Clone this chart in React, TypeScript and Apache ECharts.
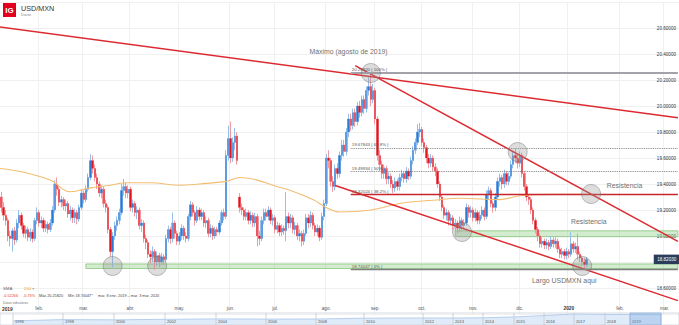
import React, { useEffect, useRef } from 'react';
import * as echarts from 'echarts';

const FONT = 'Liberation Sans, Arial, Helvetica, sans-serif';

// ---------- categories: trading days ----------
const FIRST_DAY = '2019-01-08';
const SLOT_COUNT = 306;
const tradingDays: string[] = (() => {
  const out: string[] = [];
  const d = new Date(FIRST_DAY + 'T00:00:00Z');
  while (out.length < SLOT_COUNT) {
    const wd = d.getUTCDay();
    if (wd !== 0 && wd !== 6) out.push(d.toISOString().slice(0, 10));
    d.setUTCDate(d.getUTCDate() + 1);
  }
  return out;
})();
const monthNames = ['ene.', 'feb.', 'mar.', 'abr.', 'may.', 'jun.', 'jul.', 'ago.', 'sep.', 'oct.', 'nov.', 'dic.'];
const isMonthStart = (i: number) => i > 0 && tradingDays[i].slice(5, 7) !== tradingDays[i - 1].slice(5, 7);

// ---------- daily candles [open, close, low, high] ----------
const candles: number[][] = [
  [19.40, 19.30, 19.26, 19.45], [19.30, 19.22, 19.18, 19.34], [19.22, 19.16, 19.12, 19.26], [19.16, 19.12, 19.08, 19.20], [19.12, 19.00, 18.96, 19.14],
  [19.00, 18.98, 18.92, 19.04], [18.98, 19.04, 18.88, 19.06], [19.04, 18.97, 18.93, 19.07], [18.97, 19.10, 18.95, 19.13], [19.10, 19.16, 19.06, 19.20],
  [19.16, 19.08, 19.05, 19.18], [19.08, 19.02, 18.99, 19.10], [19.02, 19.05, 18.98, 19.08], [19.05, 18.99, 18.96, 19.07], [18.99, 19.03, 18.96, 19.06],
  [19.03, 18.98, 18.95, 19.05], [18.98, 19.12, 18.96, 19.14], [19.12, 19.18, 19.09, 19.22], [19.18, 19.10, 19.07, 19.20], [19.10, 19.12, 19.06, 19.15],
  [19.12, 19.06, 19.03, 19.14], [19.06, 19.09, 19.03, 19.12], [19.09, 19.05, 19.02, 19.11], [19.05, 19.10, 19.03, 19.13], [19.10, 19.20, 19.08, 19.23],
  [19.20, 19.40, 19.18, 19.43], [19.40, 19.36, 19.31, 19.45], [19.36, 19.26, 19.23, 19.38], [19.26, 19.28, 19.22, 19.31], [19.28, 19.23, 19.20, 19.30],
  [19.23, 19.25, 19.19, 19.28], [19.25, 19.17, 19.14, 19.27], [19.17, 19.20, 19.12, 19.23], [19.20, 19.14, 19.10, 19.22], [19.14, 19.18, 19.10, 19.21],
  [19.18, 19.13, 19.09, 19.20], [19.13, 19.22, 19.11, 19.24], [19.22, 19.33, 19.20, 19.36], [19.33, 19.28, 19.25, 19.35], [19.28, 19.36, 19.26, 19.39],
  [19.36, 19.45, 19.34, 19.48], [19.45, 19.58, 19.43, 19.63], [19.58, 19.52, 19.48, 19.62], [19.52, 19.45, 19.42, 19.55], [19.45, 19.40, 19.36, 19.48],
  [19.40, 19.33, 19.30, 19.42], [19.33, 19.36, 19.29, 19.39], [19.36, 19.25, 19.22, 19.38], [19.25, 19.22, 19.18, 19.28], [19.22, 19.05, 19.02, 19.24],
  [19.05, 18.88, 18.84, 19.07], [18.88, 19.00, 18.76, 19.03], [19.00, 19.08, 18.97, 19.11], [19.08, 19.12, 19.04, 19.15], [19.12, 19.18, 19.09, 19.21],
  [19.18, 19.35, 19.16, 19.40], [19.35, 19.38, 19.31, 19.44], [19.38, 19.33, 19.29, 19.41], [19.33, 19.36, 19.29, 19.39], [19.36, 19.22, 19.19, 19.38],
  [19.22, 19.25, 19.18, 19.28], [19.25, 19.18, 19.15, 19.27], [19.18, 19.20, 19.13, 19.23], [19.20, 19.08, 19.05, 19.22], [19.08, 19.10, 19.03, 19.13],
  [19.10, 18.98, 18.95, 19.12], [18.98, 18.95, 18.90, 19.01], [18.95, 18.86, 18.83, 18.97], [18.86, 18.84, 18.79, 18.89], [18.84, 18.88, 18.80, 18.92],
  [18.88, 18.80, 18.7405, 18.90], [18.80, 18.85, 18.77, 18.88], [18.85, 18.80, 18.76, 18.87], [18.80, 18.84, 18.78, 18.87], [18.84, 18.82, 18.78, 18.86],
  [18.82, 18.98, 18.80, 19.01], [18.98, 19.05, 18.95, 19.08], [19.05, 18.98, 18.94, 19.07], [18.98, 19.10, 18.95, 19.18], [19.10, 19.02, 18.98, 19.12],
  [19.02, 18.96, 18.93, 19.04], [18.96, 19.00, 18.93, 19.03], [19.00, 19.06, 18.97, 19.09], [19.06, 19.00, 18.97, 19.08], [19.00, 18.98, 18.95, 19.03],
  [18.98, 19.15, 18.96, 19.17], [19.15, 19.24, 19.12, 19.27], [19.24, 19.18, 19.15, 19.26], [19.18, 19.12, 19.08, 19.20], [19.12, 19.20, 19.10, 19.23],
  [19.20, 19.15, 19.12, 19.22], [19.15, 19.18, 19.12, 19.21], [19.18, 19.10, 19.07, 19.20], [19.10, 19.12, 19.06, 19.15], [19.12, 19.02, 18.99, 19.14],
  [19.02, 19.06, 18.99, 19.09], [19.06, 19.00, 18.97, 19.08], [19.00, 19.05, 18.98, 19.07], [19.05, 19.03, 19.00, 19.07], [19.03, 19.10, 19.01, 19.12],
  [19.10, 19.18, 19.08, 19.20], [19.18, 19.15, 19.12, 19.21], [19.15, 19.62, 19.13, 19.66], [19.62, 19.75, 19.58, 19.85], [19.75, 19.60, 19.56, 19.88],
  [19.60, 19.72, 19.57, 19.76], [19.72, 19.77, 19.66, 19.83], [19.77, 19.58, 19.55, 19.80], [19.30, 19.22, 19.18, 19.33], [19.22, 19.20, 19.16, 19.25],
  [19.20, 19.15, 19.12, 19.22], [19.15, 19.18, 19.12, 19.21], [19.18, 19.12, 19.09, 19.20], [19.12, 19.16, 19.09, 19.19], [19.16, 19.10, 19.07, 19.18],
  [19.10, 19.15, 19.07, 19.18], [19.15, 19.00, 18.92, 19.17], [19.00, 18.98, 18.93, 19.04], [18.98, 19.12, 18.96, 19.15], [19.12, 19.18, 19.09, 19.21],
  [19.18, 19.15, 19.12, 19.21], [19.15, 19.20, 19.12, 19.23], [19.20, 19.12, 19.09, 19.22], [19.12, 19.14, 19.08, 19.17], [19.14, 19.05, 19.02, 19.16],
  [19.05, 19.08, 19.02, 19.11], [19.08, 19.03, 19.00, 19.10], [19.03, 19.06, 19.00, 19.09], [19.06, 19.04, 19.01, 19.08], [19.04, 19.15, 18.96, 19.34],
  [19.15, 19.10, 19.06, 19.18], [19.10, 19.14, 19.06, 19.17], [19.14, 19.05, 19.02, 19.16], [19.05, 19.08, 19.01, 19.11], [19.08, 19.00, 18.97, 19.10],
  [19.00, 19.02, 18.96, 19.05], [19.02, 18.96, 18.92, 19.04], [18.96, 19.02, 18.93, 19.05], [19.02, 19.14, 19.00, 19.17], [19.14, 19.10, 19.06, 19.17],
  [19.10, 19.16, 19.07, 19.19], [19.16, 19.08, 19.05, 19.18], [19.08, 19.03, 19.00, 19.10], [19.03, 19.06, 19.00, 19.09], [19.06, 18.99, 18.96, 19.08],
  [18.99, 19.15, 18.97, 19.18], [19.15, 19.25, 19.12, 19.28], [19.25, 19.60, 19.23, 19.63], [19.60, 19.58, 19.52, 19.66], [19.58, 19.42, 19.38, 19.60],
  [19.42, 19.38, 19.34, 19.46], [19.38, 19.52, 19.35, 19.55], [19.52, 19.48, 19.44, 19.56], [19.48, 19.62, 19.45, 19.65], [19.62, 19.70, 19.58, 19.74],
  [19.70, 19.65, 19.61, 19.74], [19.65, 19.80, 19.62, 19.83], [19.80, 19.90, 19.76, 19.94], [19.90, 19.85, 19.81, 19.94], [19.85, 19.95, 19.82, 19.98],
  [19.95, 19.88, 19.84, 19.98], [19.88, 20.00, 19.85, 20.03], [20.00, 19.95, 19.91, 20.04], [19.95, 20.05, 19.92, 20.08], [20.05, 19.98, 19.94, 20.08],
  [19.98, 20.12, 19.95, 20.15], [20.12, 20.15, 20.08, 20.22], [20.15, 20.05, 20.00, 20.2582], [20.05, 20.12, 20.02, 20.17], [20.12, 19.90, 19.86, 20.14],
  [19.90, 19.62, 19.58, 19.92], [19.62, 19.55, 19.50, 19.66], [19.55, 19.48, 19.44, 19.58], [19.48, 19.52, 19.44, 19.55], [19.52, 19.44, 19.40, 19.54],
  [19.44, 19.46, 19.40, 19.49], [19.46, 19.40, 19.37, 19.48], [19.40, 19.37, 19.33, 19.43], [19.37, 19.42, 19.34, 19.45], [19.42, 19.38, 19.35, 19.44],
  [19.38, 19.45, 19.35, 19.48], [19.45, 19.48, 19.42, 19.51], [19.48, 19.44, 19.41, 19.50], [19.44, 19.50, 19.41, 19.53], [19.50, 19.46, 19.43, 19.52],
  [19.46, 19.58, 19.44, 19.61], [19.58, 19.66, 19.55, 19.69], [19.66, 19.72, 19.63, 19.75], [19.72, 19.80, 19.70, 19.86], [19.80, 19.82, 19.76, 19.87],
  [19.82, 19.72, 19.69, 19.84], [19.72, 19.68, 19.64, 19.75], [19.68, 19.60, 19.56, 19.70], [19.60, 19.56, 19.52, 19.63], [19.56, 19.60, 19.53, 19.63],
  [19.60, 19.53, 19.50, 19.62], [19.53, 19.50, 19.46, 19.56], [19.50, 19.40, 19.37, 19.52], [19.40, 19.30, 19.27, 19.42], [19.30, 19.22, 19.19, 19.32],
  [19.22, 19.16, 19.13, 19.24], [19.16, 19.18, 19.12, 19.21], [19.18, 19.12, 19.08, 19.20], [19.12, 19.14, 19.08, 19.17], [19.14, 19.08, 19.05, 19.16],
  [19.08, 19.10, 19.04, 19.13], [19.10, 19.06, 19.02, 19.12], [19.06, 19.12, 19.03, 19.15], [19.12, 19.08, 19.04, 19.14], [19.08, 19.10, 19.05, 19.13],
  [19.10, 19.22, 19.08, 19.25], [19.22, 19.18, 19.14, 19.24], [19.18, 19.20, 19.14, 19.23], [19.20, 19.14, 19.11, 19.22], [19.14, 19.18, 19.11, 19.21],
  [19.18, 19.12, 19.09, 19.20], [19.12, 19.16, 19.09, 19.19], [19.16, 19.20, 19.13, 19.23], [19.20, 19.15, 19.12, 19.22], [19.15, 19.32, 19.13, 19.35],
  [19.32, 19.35, 19.28, 19.38], [19.35, 19.25, 19.22, 19.37], [19.25, 19.22, 19.18, 19.27], [19.22, 19.30, 19.19, 19.33], [19.30, 19.42, 19.28, 19.45],
  [19.42, 19.45, 19.38, 19.48], [19.45, 19.40, 19.36, 19.47], [19.40, 19.48, 19.37, 19.51], [19.48, 19.42, 19.39, 19.50], [19.42, 19.46, 19.39, 19.49],
  [19.46, 19.55, 19.44, 19.58], [19.55, 19.62, 19.52, 19.65], [19.62, 19.60, 19.56, 19.67], [19.60, 19.56, 19.52, 19.63], [19.56, 19.62, 19.53, 19.65],
  [19.62, 19.48, 19.45, 19.64], [19.48, 19.38, 19.35, 19.50], [19.38, 19.30, 19.27, 19.40], [19.30, 19.28, 19.24, 19.32], [19.28, 19.20, 19.17, 19.30],
  [19.20, 19.12, 19.09, 19.22], [19.12, 19.05, 19.02, 19.14], [19.05, 19.00, 18.96, 19.07], [19.00, 18.94, 18.91, 19.02], [18.94, 18.96, 18.91, 18.99],
  [18.96, 18.93, 18.90, 18.98], [18.93, 18.95, 18.90, 18.98], [18.95, 18.92, 18.89, 18.97], [18.92, 18.97, 18.90, 19.00], [18.97, 18.94, 18.91, 18.99],
  [18.94, 18.96, 18.91, 18.99], [18.96, 18.90, 18.87, 18.98], [18.90, 18.86, 18.83, 18.92], [18.86, 18.88, 18.83, 18.91], [18.88, 18.85, 18.82, 18.90],
  [18.85, 18.88, 18.82, 18.91], [18.88, 18.86, 18.83, 18.90], [18.86, 18.94, 18.84, 19.03], [18.94, 18.90, 18.87, 18.96], [18.90, 18.92, 18.87, 18.95],
  [18.92, 18.86, 18.82, 19.02], [18.86, 18.83, 18.80, 18.88], [18.83, 18.80, 18.77, 18.85], [18.80, 18.78, 18.75, 18.83], [18.78, 18.8203, 18.76, 18.84],
];
const lastPrice = 18.8203;

// ---------- SMA 200 readings [slot, value] ----------
const sma200: number[][] = [
  [0, 19.52], [11, 19.49], [23, 19.43], [32, 19.34], [41, 19.37], [50, 19.39], [57, 19.41], [68, 19.41], [81, 19.39],
  [90, 19.40], [102, 19.42], [108, 19.45], [116, 19.43], [123, 19.39], [131, 19.35], [141, 19.28], [147, 19.22],
  [153, 19.185], [167, 19.2], [180, 19.25], [195, 19.275], [207, 19.29], [225, 19.28], [234, 19.31], [250, 19.32], [264, 19.32],
];

// ---------- drawing tools ----------
const fibLevels = [
  { pct: '100%', value: 20.2582 },
  { pct: '61.8%', value: 19.67843 },
  { pct: '50%', value: 19.49934 },
  { pct: '38.2%', value: 19.32024 },
  { pct: '0%', value: 18.74047 },
];
const fibStart = 158;
const lastSlot = SLOT_COUNT - 1;
const trendLines = [
  { from: [0, 20.6085], to: [lastSlot, 19.909] },
  { from: [160, 20.311], to: [lastSlot, 18.958] },
  { from: [151, 19.389], to: [lastSlot, 18.503] },
];
const zones = [
  { from: 39, low: 18.75, high: 18.785 },
  { from: 205, low: 18.995, high: 19.04 },
];
const circles = [[51, 18.769], [71, 18.769], [167, 20.254], [208, 19.031], [233, 19.646], [266, 19.323], [262, 18.769]];
const notes = [
  { text: 'Máximo (agosto de 2019)', at: [157, 20.423] },
  { text: 'Resistencia', at: [281, 19.385] },
  { text: 'Resistencia', at: [265, 19.108] },
  { text: 'Largo USDMXN aquí', at: [254, 18.654] },
];

// ---------- navigator ----------
const navYears = ['1996', '1998', '2000', '2002', '2004', '2006', '2008', '2010', '2012', '2013', '2014', '2015', '2016', '2017', '2018', '2019'];
const navTickX = [13, 63, 114, 165, 216, 266, 316, 364, 423, 453, 483, 514, 544, 574, 605, 630, 661];
const navLevels = [7.6, 9.9, 9.5, 10.4, 11.2, 10.9, 11.0, 12.5, 13.0, 12.9, 13.2, 14.8, 17.3, 20.3, 19.5, 19.3, 18.9];

const fibStyle: Record<string, any> = {
  '100%': { color: '#a2a2a8', width: 2.2, type: 'solid' },
  '61.8%': { color: '#777', width: 0.9, type: 'dotted' },
  '50%': { color: '#777', width: 0.9, type: 'dotted' },
  '38.2%': { color: '#c8262c', width: 1.3, type: 'solid' },
  '0%': { color: '#7d7d7d', width: 1.4, type: 'solid' },
};

function txt(x: number, y: number, text: string, size: number, fill: string, weight = 'normal', align = 'left') {
  return {
    type: 'text', x, y, z: 100, silent: true,
    style: { text, fill, fontSize: size, fontWeight: weight, fontFamily: FONT, align, textAlign: align, verticalAlign: 'middle', textVerticalAlign: 'middle' },
  };
}

function buildOption() {
  const bodies = candles.map(([o, c]) => [o, c, Math.min(o, c), Math.max(o, c)]);

  const markLineData: any[] = [
    ...trendLines.map((t) => [{ coord: t.from, lineStyle: { color: '#dc2a31', width: 1.5, type: 'solid' } }, { coord: t.to }]),
    ...fibLevels.map((f) => [
      {
        coord: [fibStart, f.value],
        lineStyle: fibStyle[f.pct],
        label: { show: true, position: 'insideStartTop', distance: 1, formatter: `${f.value.toFixed(5)} | ${f.pct} |`, fontSize: 4.4, color: '#555', fontFamily: FONT },
      },
      { coord: [lastSlot, f.value] },
    ]),
  ];

  const markPointData: any[] = [
    ...circles.map((c) => ({
      coord: c, symbol: 'circle', symbolSize: 19,
      itemStyle: { color: 'rgba(150,150,150,0.32)', borderColor: 'rgba(110,110,110,0.55)', borderWidth: 0.8 },
      label: { show: false },
    })),
    ...notes.map((n) => ({
      coord: n.at, symbol: 'circle', symbolSize: 1, itemStyle: { color: 'rgba(0,0,0,0)' },
      label: { show: true, position: 'inside', formatter: n.text, color: '#707070', fontSize: 6.9, fontFamily: FONT },
    })),
    {
      coord: [300, lastPrice], symbol: 'rect', symbolSize: [26, 9.5], itemStyle: { color: '#2b3d5a' },
      label: { show: true, position: 'inside', formatter: lastPrice.toFixed(5), color: '#fff', fontSize: 4.6, fontFamily: FONT },
    },
  ];

  const graphics: any[] = [
    // header
    { type: 'rect', z: 100, shape: { x: 3, y: 3, width: 13, height: 14 }, style: { fill: '#e1001d' } },
    txt(9.5, 10.5, 'IG', 8, '#fff', 'bold', 'center'),
    txt(21, 8, 'USD/MXN', 7.2, '#333'),
    txt(21, 15, 'Diario', 3.8, '#888'),
    // footer info
    txt(3, 288, 'SMA', 4.3, '#666'),
    txt(24, 288, '200', 4.3, '#f0a030'),
    txt(32, 288, '×', 4.3, '#666'),
    txt(3, 296, '-0.52266', 3.8, '#e0402e'),
    txt(23, 296, '-0.73%', 3.8, '#e0402e'),
    txt(39, 296, 'Máx 20.25820', 3.8, '#444'),
    txt(68, 296, 'Mín 18.74047*', 3.8, '#444'),
    txt(98, 296, 'mar. 8 ene. 2019 – mar. 3 mar. 2020', 3.8, '#444'),
    txt(3, 303, 'Datos indicativos', 3.3, '#777'),
    txt(2, 309, '2019', 4.8, '#333', 'bold'),
    // navigator
    { type: 'rect', z: 100, silent: true, shape: { x: 0, y: 313, width: 679, height: 12 }, style: { fill: 'none', stroke: '#cdd3da', lineWidth: 0.8 } },
    ...navTickX.map((x) => ({ type: 'line', z: 100, silent: true, shape: { x1: x, y1: 313, x2: x, y2: 325 }, style: { stroke: '#c3c9d1', lineWidth: 0.8 } })),
    ...navYears.map((y, i) => txt(navTickX[i] + 2, 321.5, y, 4, '#555')),
    { type: 'rect', z: 100, silent: true, shape: { x: 630, y: 313, width: 31, height: 12 }, style: { fill: 'rgba(110,160,225,0.3)', stroke: '#8fb2dc', lineWidth: 0.8 } },
  ];

  return {
    animation: false,
    backgroundColor: '#fff',
    textStyle: { fontFamily: FONT },
    grid: [
      { left: -2, right: 0, top: 2, height: 312, outerBoundsMode: 'none', containLabel: false },
      { left: 0, right: 0, top: 313, height: 12, outerBoundsMode: 'none', containLabel: false, show: true, backgroundColor: '#fff', borderWidth: 0 },
    ],
    xAxis: [
      {
        type: 'category', gridIndex: 0, data: tradingDays, boundaryGap: true,
        axisLine: { show: false }, axisTick: { show: false },
        axisLabel: {
          inside: true, margin: 3, fontSize: 4.6, color: '#555', fontFamily: FONT,
          interval: (i: number) => isMonthStart(i),
          formatter: (v: string) => {
            const m = parseInt(v.slice(5, 7), 10) - 1;
            return m === 0 ? `{y|${v.slice(0, 4)}}` : monthNames[m];
          },
          rich: { y: { fontSize: 4.8, fontWeight: 'bold', color: '#333', fontFamily: FONT } },
        },
        splitLine: { show: true, interval: (i: number) => isMonthStart(i), lineStyle: { color: '#f0f0f0', width: 1 } },
      },
      { type: 'value', gridIndex: 1, min: 0, max: 679, show: false },
    ],
    yAxis: [
      {
        type: 'value', gridIndex: 0, position: 'right', min: 18.4, max: 20.8, interval: 0.2, scale: true,
        axisLine: { show: false }, axisTick: { show: false },
        axisLabel: {
          inside: true, margin: 3, fontSize: 4.6, color: '#333', fontFamily: FONT, showMinLabel: false, showMaxLabel: false,
          // the 18.80000 label sits under the last-price tag, as in the source
          formatter: (v: number) => (Math.abs(v - 18.8) < 1e-6 ? '' : v.toFixed(5)),
        },
        splitLine: { show: true, lineStyle: { color: '#f0f0f0', width: 1 } },
      },
      { type: 'value', gridIndex: 1, min: 0, max: 22, show: false },
    ],
    series: [
      {
        type: 'candlestick', name: 'wicks', xAxisIndex: 0, yAxisIndex: 0, data: candles, barWidth: 2.0, z: 2,
        itemStyle: { color: '#95c0ec', color0: '#f29aa0', borderColor: '#95c0ec', borderColor0: '#f29aa0', borderWidth: 1 },
      },
      {
        type: 'candlestick', name: 'bodies', xAxisIndex: 0, yAxisIndex: 0, data: bodies, barWidth: 1.8, z: 3,
        itemStyle: { color: '#2a79d5', color0: '#e3141d', borderColor: '#2a79d5', borderColor0: '#e3141d', borderWidth: 0 },
      },
      {
        type: 'line', name: 'SMA 200', xAxisIndex: 0, yAxisIndex: 0, data: sma200, smooth: 0.4, symbol: 'none', showSymbol: false, z: 4,
        lineStyle: { color: '#f3bd70', width: 1.1 },
        markArea: {
          silent: true, label: { show: false },
          itemStyle: { color: 'rgba(150,210,140,0.42)', borderColor: '#86c77a', borderWidth: 0.8 },
          data: zones.map((zn) => [{ coord: [zn.from, zn.high] }, { coord: [lastSlot, zn.low] }]),
        },
        markLine: { silent: true, symbol: ['none', 'none'], label: { show: false }, data: markLineData },
        markPoint: { silent: true, label: { show: false }, data: markPointData },
      },
      {
        type: 'line', name: 'navigator', xAxisIndex: 1, yAxisIndex: 1, z: 2,
        data: navTickX.map((x, i) => [x, navLevels[i]]), symbol: 'none',
        lineStyle: { color: '#9dbfe6', width: 0.7 }, areaStyle: { color: '#d2e3f5' },
      },
    ],
    graphic: graphics,
  };
}

export default function App() {
  const ref = useRef<HTMLDivElement>(null);
  useEffect(() => {
    document.body.style.margin = '0';
    const chart = echarts.init(ref.current as HTMLDivElement, null, { renderer: 'svg' });
    chart.setOption(buildOption() as any);
    return () => chart.dispose();
  }, []);
  return <div ref={ref} style={{ position: 'fixed', left: 0, top: 0, width: 679, height: 325, background: '#fff' }} />;
}
